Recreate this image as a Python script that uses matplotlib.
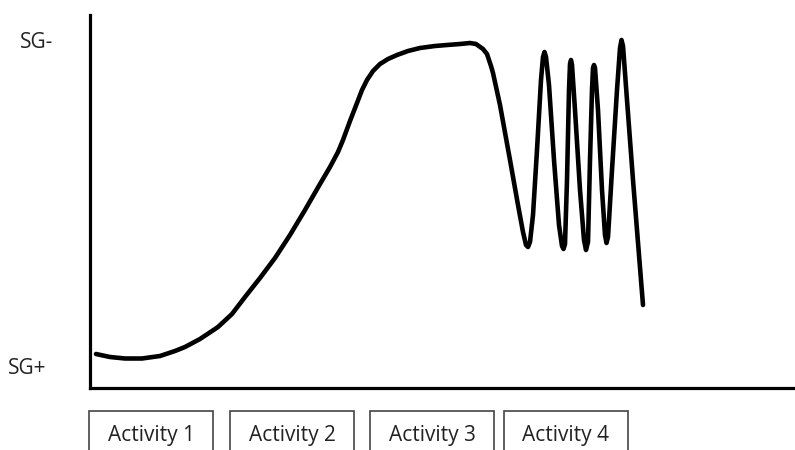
import matplotlib
matplotlib.use("Agg")
import matplotlib.pyplot as plt
from matplotlib.patches import Rectangle

plt.rcParams['font.family'] = ['Open Sans', 'DejaVu Sans']

# Curve (x: time, y: SG level from SG+ at bottom to SG- at top)
time = [6, 20, 35, 52, 70, 85, 95, 110, 128, 142, 155, 170, 185, 200, 215,
        230, 240, 248, 253, 260, 267, 272, 277, 283, 290, 298, 307, 318, 330,
        345, 357, 370, 380, 386, 393, 397, 399, 401, 403, 410, 420, 428, 433,
        436, 438, 440, 443, 447, 451, 453, 454.5, 456, 459, 464, 469, 472,
        473.5, 475, 477, 479, 480, 481, 482, 485, 490, 494, 496, 498, 500,
        502, 503, 504, 505, 508, 512, 515, 516.5, 518, 522, 527, 530, 531.5,
        533, 537, 543, 549, 553]
sg = [34, 31, 29.5, 29.5, 32, 37, 41, 49, 61, 74, 91, 110, 130, 153, 178,
      204, 221, 236, 248, 267, 285, 298, 308, 317, 324, 329, 333, 337, 340,
      342, 343, 344, 345, 344, 339, 334, 328, 322, 315, 283, 228, 183, 156,
      143, 141, 146, 173, 238, 308, 331, 336, 331, 303, 228, 163, 142,
      139, 144, 208, 298, 324, 328, 323, 278, 198, 148, 138, 146, 228,
      298, 320, 323, 320, 278, 198, 153, 145, 151, 218, 298, 340, 348,
      342, 288, 208, 133, 83]

activities = ["Activity 1", "Activity 2", "Activity 3", "Activity 4"]
y_labels = ["SG+", "SG-"]

W, H = 795, 450
fig = plt.figure(figsize=(W / 100, H / 100), dpi=100)
ax = fig.add_axes([90 / W, 62 / H, (W - 90) / W, 373 / H])
ax.plot(time, sg, color="black", lw=3.3, solid_joinstyle="round",
        solid_capstyle="round")
ax.set_xlim(0, 705)
ax.set_ylim(0, 373)
for s in ["top", "right"]:
    ax.spines[s].set_visible(False)
for s in ["left", "bottom"]:
    ax.spines[s].set_linewidth(2.3)
    ax.spines[s].set_color("black")
ax.set_xticks([])
ax.set_yticks([])

fig.text(37 / W, 1 - 43 / H, y_labels[1], ha="center", va="center",
         fontsize=15, color="#222222")
fig.text(27 / W, 1 - 368 / H, y_labels[0], ha="center", va="center",
         fontsize=15, color="#222222")

box_left = [89, 230, 370, 504]
box_w = 124
for x0, name in zip(box_left, activities):
    fig.patches.append(Rectangle((x0 / W, -10 / H), box_w / W, (H - 411 + 10) / H,
                                 transform=fig.transFigure, fill=False,
                                 edgecolor="#444444", lw=1.2))
    fig.text((x0 + box_w / 2) / W, 1 - 436 / H, name, ha="center", va="center",
             fontsize=15, color="#222222")

fig.savefig("out.png", dpi=100)
